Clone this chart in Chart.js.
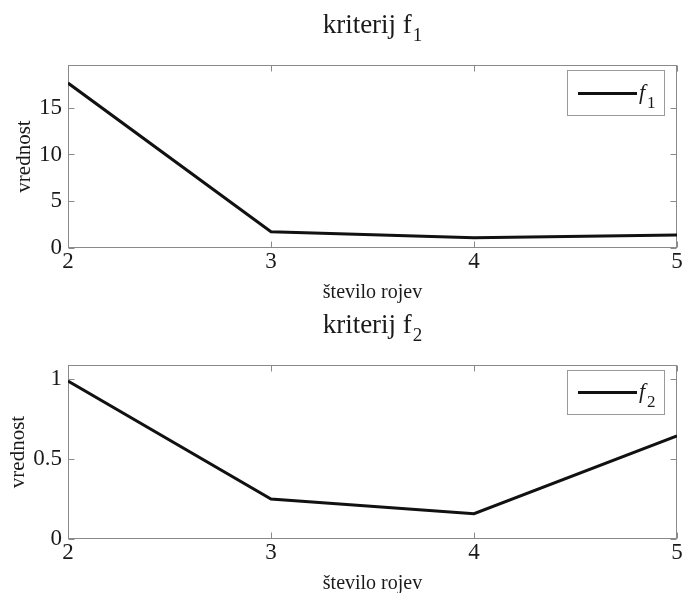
<!DOCTYPE html>
<html>
<head>
<meta charset="utf-8">
<script src="https://cdn.jsdelivr.net/npm/chart.js@4.4.1/dist/chart.umd.min.js"></script>
<style>
    body { margin: 0; background: #fff; width: 683px; height: 593px; overflow: hidden; position: relative; }
    canvas { position: absolute; left: 0; }
</style>
</head>
<body>
<canvas id="chart-f1" width="683" height="306" style="top:0px"></canvas>
<canvas id="chart-f2" width="683" height="293" style="top:300px"></canvas>
<script>
// podatki
var rojevi = [2, 3, 4, 5];
var vrednostF1 = [17.64, 1.74, 1.10, 1.39];
var vrednostF2 = [0.987, 0.250, 0.158, 0.644];
var yTicksF1 = [0, 5, 10, 15];
var yTicksF2 = [0, 0.5, 1];
var yMaxF1 = 19.57;
var yMaxF2 = 1.087;
var naslovF1 = ['kriterij f', '1'];
var naslovF2 = ['kriterij f', '2'];
var xNaslov = 'število rojev';
var yNaslov = 'vrednost';

var FONT = '"Liberation Serif", "Times New Roman", serif';

var okvir = {
    id: 'okvir',
    beforeDatasetsDraw: function (chart) {
        var ctx = chart.ctx, a = chart.chartArea;
        var sx = chart.scales.x, sy = chart.scales.y;
        var L = Math.round(a.left) + 0.5, R = Math.round(a.right) - 0.5;
        var T = Math.round(a.top) + 0.5, B = Math.round(a.bottom) - 0.5;
        ctx.save();
        ctx.strokeStyle = '#8a8a8a';
        ctx.lineWidth = 1;
        ctx.strokeRect(L, T, R - L, B - T);
        // notranje oznake
        ctx.beginPath();
        sy.ticks.forEach(function (t) {
            var y = Math.round(sy.getPixelForValue(t.value)) + 0.5;
            ctx.moveTo(L, y); ctx.lineTo(L + 6, y);
            ctx.moveTo(R, y); ctx.lineTo(R - 6, y);
        });
        sx.ticks.forEach(function (t) {
            var x = Math.round(sx.getPixelForValue(t.value)) + 0.5;
            ctx.moveTo(x, B); ctx.lineTo(x, B - 6);
            ctx.moveTo(x, T); ctx.lineTo(x, T + 6);
        });
        ctx.stroke();
        ctx.restore();
    },
    afterDraw: function (chart) {
        var ctx = chart.ctx, a = chart.chartArea;
        var o = chart.options.plugins.okvir;
        var cx = (a.left + a.right) / 2;
        ctx.save();
        ctx.fillStyle = '#1a1a1a';

        // naslov
        ctx.textBaseline = 'alphabetic';
        ctx.textAlign = 'left';
        ctx.font = '27px ' + FONT;
        var w1 = ctx.measureText(o.naslov[0]).width;
        ctx.font = '19px ' + FONT;
        var w2 = ctx.measureText(o.naslov[1]).width;
        var x0 = cx - (w1 + w2 + 1) / 2;
        ctx.font = '27px ' + FONT;
        ctx.fillText(o.naslov[0], x0, 33);
        ctx.font = '19px ' + FONT;
        ctx.fillText(o.naslov[1], x0 + w1 + 1, 41);

        // os x
        ctx.textAlign = 'center';
        ctx.font = '20px ' + FONT;
        ctx.fillText(xNaslov, cx, o.xBase);

        // os y
        ctx.font = '21px ' + FONT;
        ctx.translate(o.yBase, (a.top + a.bottom) / 2);
        ctx.rotate(-Math.PI / 2);
        ctx.fillText(yNaslov, 0, 0);
        ctx.setTransform(1, 0, 0, 1, 0, 0);

        // legenda
        var lx = a.right - 110, ly = a.top + 5, lw = 97, lh = o.legH;
        ctx.strokeStyle = '#9a9a9a';
        ctx.lineWidth = 1;
        ctx.strokeRect(Math.round(lx) + 0.5, Math.round(ly) + 0.5, lw, lh);
        var my = Math.round(ly + lh / 2) + 0.5;
        ctx.strokeStyle = '#111';
        ctx.lineWidth = 3;
        ctx.beginPath();
        ctx.moveTo(lx + 11, my);
        ctx.lineTo(lx + 70, my);
        ctx.stroke();
        ctx.textAlign = 'left';
        ctx.font = 'italic 22px ' + FONT;
        ctx.fillText('f', lx + 72, my + 5);
        ctx.font = '17px ' + FONT;
        ctx.fillText(o.naslov[1], lx + 80, my + 14);
        ctx.restore();
    }
};

function napraviGraf(id, podatki, yTicks, yMax, naslov, xVisina, xBase, yBase, legH) {
    var ctx = document.getElementById(id).getContext('2d');
    return new Chart(ctx, {
        type: 'line',
        data: {
            datasets: [{
                label: naslov[0] + naslov[1],
                data: rojevi.map(function (x, i) { return {x: x, y: podatki[i]}; }),
                borderColor: '#111',
                borderWidth: 3,
                pointRadius: 0,
                tension: 0,
                fill: false
            }]
        },
        options: {
            responsive: false,
            animation: false,
            layout: {padding: {top: 65, right: 6, left: 0, bottom: 0}},
            plugins: {
                legend: {display: false},
                tooltip: {enabled: false},
                okvir: {naslov: naslov, xBase: xBase, yBase: yBase, legH: legH}
            },
            scales: {
                x: {
                    type: 'linear',
                    min: rojevi[0],
                    max: rojevi[rojevi.length - 1],
                    grid: {display: false, drawTicks: false},
                    border: {display: false},
                    ticks: {color: '#1a1a1a', font: {family: FONT, size: 23}, padding: 0, maxRotation: 0,
                        callback: function (v) { return String(v); }},
                    afterBuildTicks: function (s) { s.ticks = rojevi.map(function (v) { return {value: v}; }); },
                    afterFit: function (s) { s.height = xVisina; }
                },
                y: {
                    min: 0,
                    max: yMax,
                    grid: {display: false, drawTicks: false},
                    border: {display: false},
                    ticks: {color: '#1a1a1a', font: {family: FONT, size: 23}, padding: 6,
                        callback: function (v) { return String(v); }},
                    afterBuildTicks: function (s) { s.ticks = yTicks.map(function (v) { return {value: v}; }); },
                    afterFit: function (s) { s.width = 68; }
                }
            }
        },
        plugins: [okvir]
    });
}

var Chart1 = napraviGraf('chart-f1', vrednostF1, yTicksF1, yMaxF1, naslovF1, 58, 298, 30, 45);
var Chart2 = napraviGraf('chart-f2', vrednostF2, yTicksF2, yMaxF2, naslovF2, 54, 289, 24, 44);
</script>
</body>
</html>
